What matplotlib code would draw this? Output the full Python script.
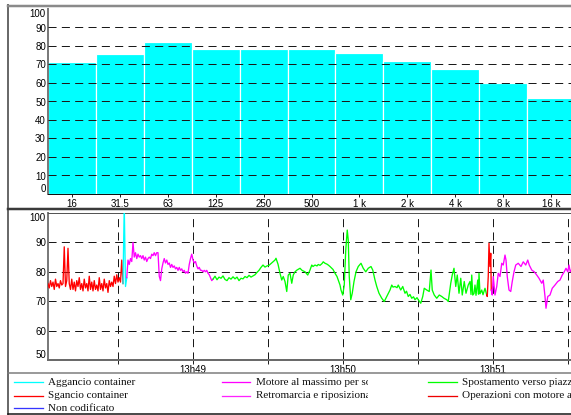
import numpy as np
import matplotlib
matplotlib.use("Agg")
import matplotlib.pyplot as plt
from matplotlib.lines import Line2D
from matplotlib.transforms import Bbox, TransformedBbox

plt.rcParams['lines.scale_dashes'] = False

# ---------------- data ----------------
bands = ['16', '31.5', '63', '125', '250', '500', '1 k', '2 k', '4 k', '8 k', '16 k']
band_levels = [71.4, 75.7, 82.0, 78.4, 78.4, 78.5, 76.4, 71.9, 67.6, 60.0, 52.0]

# time in seconds after 13h48
time_ticks = [30, 60, 90, 120, 150, 180, 210]
time_labels = ['', '13h49', '', '13h50', '', '13h51', '']

t_sgancio = [2.0, 2.5, 3.0, 3.5, 4.0, 4.5, 5.0, 5.5, 6.0, 6.5,
             7.0, 7.5, 8.0, 8.5, 9.0, 9.5, 10.0, 10.5, 11.0, 11.5,
             12.0, 12.5, 13.0, 13.5, 14.0, 14.5, 15.0, 15.5, 16.0, 16.5,
             17.0, 17.5, 18.0, 18.5, 19.0, 19.5, 20.0, 20.5, 21.0, 21.5,
             22.0, 22.5, 23.0, 23.5, 24.0, 24.5, 25.0, 25.5, 26.0, 26.5,
             27.0, 27.5, 28.0, 28.5, 29.0, 29.5, 30.0, 30.5, 31.0, 31.5, 32.0]
v_sgancio = [76, 74.5, 77, 75, 76.5, 74, 77.5, 75, 76, 74.5,
             77, 75.5, 76, 88.5, 75, 77, 88, 76, 74, 77.5,
             74, 76.5, 73.5, 77, 75, 78, 74, 76, 73.5, 77.5,
             74.5, 76, 73.5, 78.5, 74, 76.5, 73.5, 77, 74, 75.5,
             73.5, 78, 74, 76, 73.5, 77.5, 74.5, 76, 73, 77,
             75, 76.5, 75, 78.5, 76, 79, 76.5, 78, 76.5, 84, 76]

t_aggancio = [32.0, 32.5, 33.0, 33.5]
v_aggancio = [76, 103, 75, 78]

t_motore = [33.5, 34.0, 34.5, 35.0, 35.5, 36.0, 36.5, 37.0, 37.5, 38.0,
            38.5, 39.0, 39.5, 40.0, 40.5, 41.0, 41.5, 42.0, 42.5, 43.0,
            43.5, 44.0, 44.5, 45.0, 45.5, 46.0, 46.5, 47.0, 47.5, 48.0,
            48.5, 49.0, 49.5, 50.0, 50.5, 51.0, 51.5, 52.0, 52.5, 53.0,
            53.5, 54.0, 54.5, 55.0, 55.5, 56.0, 56.5, 57.0, 57.5, 58.0,
            58.5, 59.0, 59.5, 60.0, 60.5, 61.0, 61.5, 62.0, 62.5, 63.0,
            63.5, 64.0, 64.5, 65.0, 65.5, 66.0, 66.5, 67.0, 67.5, 68.0]
v_motore = [78, 84, 82.5, 84.5, 83.5, 90, 85, 86.5, 84.5, 86,
            85, 85.5, 84.5, 85.5, 84, 85, 83.5, 84.5, 85, 84.5,
            86, 85.5, 86.5, 85.5, 86.5, 86.5, 78.5, 77, 81, 83,
            84.5, 83, 84, 82.5, 83, 81.5, 82.5, 81.5, 82, 81,
            81.5, 80.5, 81.5, 80.5, 81, 80, 80.5, 79.5, 80, 79.5,
            82.5, 84.5, 86, 84, 83, 83.5, 82, 81, 81.5, 80.5,
            80.5, 80, 80.5, 80, 80.5, 79.5, 79, 78, 77, 77.5]

t_spost = [68.0, 68.8, 69.6, 70.4, 71.2, 72.0, 72.8, 73.6, 74.4, 75.2,
           76.0, 76.8, 77.6, 78.4, 79.2, 80.0, 80.8, 81.6, 82.4, 83.2,
           84.0, 84.8, 85.6, 86.4, 87.2, 88.0, 88.8, 89.6, 90.4, 91.2,
           92.0, 92.8, 93.2, 94.0, 94.8, 95.5, 96.1, 96.8, 97.5, 98.1,
           98.8, 99.5, 100.1, 100.8, 101.6, 102.8, 103.6, 104.8, 105.9, 106.8,
           107.5, 108.0, 108.8, 109.6, 110.1, 110.8, 111.6, 112.1, 112.8, 113.6,
           114.1, 114.8, 115.5, 116.0, 116.8, 117.6, 118.1, 118.8, 119.2, 119.9,
           120.5, 121.1, 121.7, 122.1, 122.5, 123.1, 123.7, 124.4, 125.2, 126.1,
           127.2, 128.1, 129.1, 130.1, 131.2, 131.9, 132.8, 133.5, 134.4, 135.5,
           136.5, 137.5, 138.1, 138.8, 139.5, 140.0, 140.8, 141.6, 142.1, 143.1,
           143.9, 144.8, 145.4, 146.1, 146.8, 147.5, 148.2, 148.8, 149.6, 150.1,
           151.1, 151.9, 152.5, 153.5, 154.5, 155.2, 155.7, 156.5, 157.5, 158.5,
           159.5, 160.4, 161.5, 162.1, 163.1, 163.7, 164.4, 165.1, 165.7, 166.4,
           167.1, 167.7, 168.5, 169.2, 170.1, 170.8, 171.2, 171.5, 171.9, 172.4,
           172.8, 173.2, 173.9, 174.2, 174.4, 174.8, 175.5, 176.0, 176.8, 177.5]
v_spost = [77.5, 78.5, 77.3, 78.2, 77.8, 78.6, 77.4, 77.0, 78.0, 77.5,
           78.3, 77.6, 78.2, 77.0, 77.8, 77.6, 78.4, 78.0, 78.8, 78.2,
           78.6, 79.0, 79.8, 80.5, 81.5, 82.3, 81.6, 82.0, 82.2, 82.8,
           83.4, 84.0, 84.6, 82.6, 79.5, 77.2, 78.4, 76.7, 73.3, 78.9,
           79.5, 76.1, 78.9, 80.0, 80.6, 81.2, 80.5, 80.0, 78.9, 80.6,
           82.3, 81.8, 82.3, 82.0, 82.5, 82.2, 82.8, 83.4, 82.9, 82.6,
           82.3, 81.8, 81.2, 80.8, 79.5, 78.4, 77.2, 75.5, 73.8, 72.1,
           75.5, 87.4, 94.2, 90.8, 78.4, 70.5, 72.7, 76.7, 80.0, 81.8,
           82.9, 81.2, 80.0, 81.2, 81.8, 80.6, 77.2, 75.0, 72.7, 71.0,
           69.9, 71.6, 72.7, 73.8, 75.5, 74.8, 75.0, 74.6, 75.5, 73.8,
           75.0, 72.7, 73.4, 71.6, 72.3, 71.0, 71.5, 70.5, 71.2, 70.5,
           69.3, 71.6, 74.4, 73.8, 73.3, 80.6, 73.8, 72.1, 71.0, 72.1,
           71.6, 71.0, 70.5, 69.9, 76.1, 78.9, 81.2, 75.0, 78.9, 72.7,
           77.8, 72.1, 76.7, 72.7, 75.5, 76.7, 72.3, 78.9, 72.1, 72.6,
           75.5, 72.0, 77.2, 72.4, 79.5, 72.5, 73.8, 72.2, 74.4, 72.1]

t_oper = [177.5, 177.7, 178.1, 178.4, 178.8, 179.1, 179.3]
v_oper = [72.1, 71.6, 78.4, 89.7, 81.8, 86.3, 73.8]

t_retro = [179.3, 179.7, 180.1, 180.8, 181.5, 182.1, 182.8, 183.5, 184.1, 184.8,
           185.2, 185.7, 186.4, 187.1, 187.7, 188.4, 189.1, 190.1, 191.2, 192.1,
           193.1, 193.9, 194.5, 195.5, 196.5, 197.5, 198.4, 199.5, 200.1, 200.8,
           201.2, 201.9, 202.8, 203.7, 204.8, 205.9, 206.8, 207.7, 208.5, 209.2,
           209.9, 210.4, 210.9, 211.6]
v_retro = [73.8, 72.1, 78.4, 72.1, 75.0, 79.5, 78.4, 82.9, 82.3, 85.7,
           84.0, 78.4, 73.8, 73.3, 76.7, 80.0, 82.3, 82.9, 81.8, 83.4,
           82.3, 84.0, 82.3, 80.6, 80.0, 78.9, 77.8, 76.1, 77.2, 71.6,
           67.6, 71.6, 72.1, 74.4, 75.5, 76.7, 77.2, 78.9, 80.0, 81.2,
           80.0, 82.3, 80.0, 81.0]

legend_labels = [['Aggancio container', 'Sgancio container', 'Non codificato'],
                 ['Motore al massimo per sollevamento', 'Retromarcia e riposizionamento'],
                 ['Spostamento verso piazzale', 'Operazioni con motore acceso']]
legend_colors = [['#00ffff', '#ff0000', '#3535ff'],
                 ['#ff00ff', '#ff22ff'],
                 ['#00ff00', '#ee0000']]

# ---------------- figure ----------------
W, H = 571, 415
fig = plt.figure(figsize=(W / 100, H / 100), dpi=100)
fig.patch.set_facecolor('white')

def fx(px):
    return px / W

def fy(py):
    return 1 - py / H

PX = 0.72  # one pixel in points
dash = (0, (5.8, 3.8))
tick_font = dict(family='Liberation Sans', size=7)

# ---- top panel: spectrum bars ----
ax1 = fig.add_axes([fx(48), fy(194), fx(575) - fx(48), fy(9) - fy(194)])
x = np.arange(len(bands))
ax1.bar(x, band_levels, width=1.0, color='#00ffff', edgecolor='white',
        linewidth=1.2 * PX, zorder=1)
ax1.set_xlim(-0.5, len(bands) - 0.5)
ax1.set_ylim(0, 100)
for yv in range(10, 100, 10):
    ax1.axhline(yv, color='#1a1a1a', lw=1.0 * PX, ls=dash, zorder=3)
ax1.set_yticks(range(0, 101, 10))
ylabs1 = ax1.set_yticklabels([str(v) for v in range(0, 101, 10)], **tick_font)
ylabs1[0].set_va('bottom')
ylabs1[-1].set_va('top')
ax1.set_xticks(x)
ax1.set_xticklabels(bands, **tick_font)
ax1.tick_params(axis='y', length=0, pad=1.5)
ax1.tick_params(axis='x', length=3 * PX, width=PX, direction='out', pad=1.5, color='#222222')
for s in ['top', 'right']:
    ax1.spines[s].set_visible(False)
ax1.spines['left'].set_color('#7a7a7a')
ax1.spines['left'].set_linewidth(2 * PX)
ax1.spines['bottom'].set_color('#111111')
ax1.spines['bottom'].set_linewidth(1 * PX)

# ---- bottom panel: time history ----
ax2 = fig.add_axes([fx(48), fy(360), fx(575) - fx(48), fy(213) - fy(360)])
ax2.set_xlim(2, 212.8)
ax2.set_ylim(50, 100)
for yv in [60, 70, 80, 90]:
    ax2.axhline(yv, color='#1a1a1a', lw=1.0 * PX, ls=dash, zorder=1)
for tv in time_ticks:
    ax2.axvline(tv, color='#1a1a1a', lw=1.0 * PX, ls=dash, zorder=1)
lw = 0.95
ax2.plot(t_sgancio, v_sgancio, color='#ff0000', lw=lw, zorder=3)
ax2.plot(t_aggancio, v_aggancio, color='#00ffff', lw=lw, zorder=3)
ax2.plot(t_motore, v_motore, color='#ff00ff', lw=lw, zorder=3)
ax2.plot(t_spost, v_spost, color='#00ff00', lw=lw, zorder=3)
ax2.plot(t_oper, v_oper, color='#ff0000', lw=lw, zorder=3)
ax2.plot(t_retro, v_retro, color='#ff00ff', lw=lw, zorder=3)
ax2.set_yticks(range(50, 101, 10))
ylabs2 = ax2.set_yticklabels([str(v) for v in range(50, 101, 10)], **tick_font)
ylabs2[0].set_va('bottom')
ylabs2[-1].set_va('top')
ax2.set_xticks(time_ticks)
ax2.set_xticklabels(time_labels, **tick_font)
ax2.tick_params(axis='y', length=0, pad=1.5)
ax2.tick_params(axis='x', length=4 * PX, width=PX, direction='out', pad=0.5, color='#222222')
ax2.spines['right'].set_visible(False)
ax2.spines['top'].set_color('#555555')
ax2.spines['top'].set_linewidth(1 * PX)
ax2.spines['left'].set_color('#7a7a7a')
ax2.spines['left'].set_linewidth(2 * PX)
ax2.spines['bottom'].set_color('#6a6a6a')
ax2.spines['bottom'].set_linewidth(2 * PX)

# ---- frame lines ----
def fline(xs, ys, color, lwpx):
    fig.add_artist(Line2D([fx(v) for v in xs], [fy(v) for v in ys],
                          transform=fig.transFigure, color=color, lw=lwpx * PX))

fline([8, 8], [5, 414], '#6a6a6a', 2)
fline([8, 575], [6, 6], '#8a8a8a', 2.5)
fline([8, 575], [209, 209], '#3a3a3a', 2.5)
fline([8, 575], [373, 373], '#7a7a7a', 1.5)
fline([8, 575], [414, 414], '#111111', 1.5)

# ---- legend ----
col_line_x = [(14, 43), (222, 250), (428, 457)]
col_text_x = [48, 256, 462]
row_y = [382, 395.5, 408]
clip2 = TransformedBbox(Bbox([[0, 0], [fx(368), 1]]), fig.transFigure)
for c in range(3):
    for r, (lab, colr) in enumerate(zip(legend_labels[c], legend_colors[c])):
        fline(col_line_x[c], [row_y[r], row_y[r]], colr, 1.3)
        t = fig.text(fx(col_text_x[c]), fy(row_y[r]), lab, ha='left', va='center',
                     family='Liberation Serif', size=8.0, color='#111111')
        if c == 1:
            t.set_clip_box(clip2)
            t.set_clip_on(True)

fig.savefig('out.png', dpi=100)
